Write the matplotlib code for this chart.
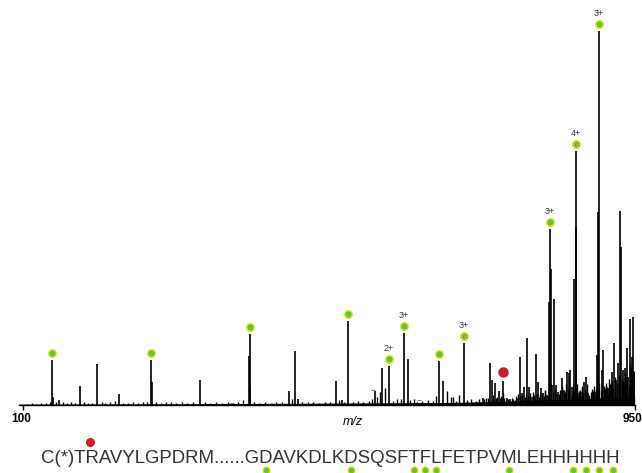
import matplotlib
matplotlib.use("Agg")
import matplotlib.pyplot as plt
from matplotlib.font_manager import FontProperties
from matplotlib.transforms import ScaledTranslation

# main peaks: m/z and relative intensity (%)
peak_mz = [140.4, 141.8, 149.7, 179.3, 203.0, 233.6, 278.2, 279.2, 345.0, 413.2, 414.6, 415.5,
           468.9, 477.2, 481.4, 534.3, 542.7, 551.0, 588.6, 599.3, 608.1, 629.0, 634.5,
           677.7, 683.2, 712.1, 738.5, 748.7, 751.5, 755.6, 761.2, 766.3, 771.9, 776.5,
           790.4, 792.8, 796.0, 800.6, 803.4, 806.7, 812.3, 815.9, 819.7, 822.0, 827.6,
           830.8, 832.2, 833.6, 835.4, 838.5, 840.5, 843.7, 848.5, 850.7, 855.4, 858.2,
           860.0, 862.4, 865.6, 868.0, 869.1, 871.6, 876.3, 879.5, 882.3, 885.5, 890.2,
           894.8, 898.0, 898.7, 900.0, 904.2, 906.4, 911.1, 914.7, 918.1, 921.3, 924.1,
           927.3, 930.1, 931.5, 933.5, 936.6, 939.0, 941.2, 943.6, 946.0, 947.1, 949.9]
peak_int = [12.0, 2.1, 1.3, 5.1, 11.0, 2.9, 12.0, 6.2, 6.7, 13.1, 19.0, 5.3,
            3.7, 14.4, 1.6, 6.4, 1.3, 22.5, 3.7, 9.9, 10.4, 19.3, 12.3,
            11.8, 6.4, 16.6, 1.9, 11.2, 6.7, 5.9, 3.7, 6.4, 1.9, 1.6,
            12.8, 3.2, 4.8, 17.9, 4.8, 2.1, 13.6, 6.1, 4.5, 3.2, 2.7,
            27.5, 47.1, 36.4, 5.3, 28.3, 5.3, 3.5, 7.2, 4.0, 8.8, 8.6,
            9.4, 4.8, 33.7, 67.9, 47.6, 3.2, 3.5, 6.1, 7.5, 3.2, 2.7,
            3.5, 13.4, 51.6, 100.0, 9.4, 14.7, 2.7, 4.5, 8.8, 16.6, 6.7,
            11.2, 51.9, 42.2, 9.4, 9.9, 15.2, 7.5, 23.0, 12.8, 23.5, 7.5]

# low-level grass
noise_mz = [105, 112, 118, 124, 131, 137, 145, 155, 161, 166, 172, 185, 190, 196, 209, 214,
            221, 228, 238, 245, 252, 259, 266, 272, 285, 291, 298, 305, 312, 320, 328, 336,
            352, 360, 368, 376, 384, 392, 399, 406, 421, 428, 436, 444, 452, 460, 474, 488,
            496, 503, 511, 519, 527, 539, 546, 558, 565, 572, 580, 585, 592, 596.5, 602.5,
            614, 620, 625, 637, 642.8, 648, 655, 662, 670, 674.4, 689.2, 694, 697, 702,
            705.5, 717, 722, 729, 734, 744, 758, 764, 769, 774, 781, 785, 788, 794, 798,
            808, 810, 818, 825, 829, 842, 846, 853, 857, 863, 874, 878, 887, 892, 896, 903,
            909, 913, 916, 920, 926, 929, 935, 938, 942, 945, 948,
            741, 746, 753, 757, 763, 767, 779, 783, 786, 791, 799, 802, 805, 811, 814, 817,
            821, 824, 826, 837, 839, 845, 849, 852, 854, 859, 864, 866, 870, 873, 877, 881,
            884, 889, 891, 893, 897, 901, 905, 907, 910, 912, 915, 917, 919, 922, 925, 928,
            932, 934, 937, 940, 944, 947, 949]
noise_int = [0.4, 0.5, 0.3, 0.6, 0.5, 0.8, 0.9, 0.7, 0.6, 0.8, 0.6, 0.7, 0.5, 0.6, 0.8, 0.5,
             0.7, 1.1, 0.6, 0.5, 0.8, 0.6, 0.9, 0.7, 0.8, 0.6, 0.7, 0.9, 0.6, 0.8, 0.6, 0.9,
             0.7, 0.6, 0.8, 0.5, 0.7, 0.6, 0.8, 1.4, 0.7, 0.6, 0.8, 0.6, 0.9, 0.7, 1.6, 0.8,
             0.7, 0.9, 0.6, 0.8, 0.7, 1.3, 0.8, 0.9, 1.1, 0.9, 1.2, 1.5, 2.2, 3.5, 4.5,
             1.1, 1.7, 1.6, 1.3, 1.7, 0.9, 1.0, 1.3, 1.2, 2.4, 3.7, 2.1, 2.2, 1.0,
             2.7, 1.4, 1.7, 1.2, 1.5, 1.8, 2.2, 2.5, 2.0, 1.6, 1.5, 2.5, 3.0, 2.6, 2.1,
             3.4, 2.6, 3.0, 3.7, 2.4, 2.9, 3.9, 3.5, 4.2, 3.0, 4.1, 3.4, 2.8, 3.7, 4.4, 4.0,
             4.6, 3.1, 5.5, 4.6, 5.2, 7.2, 5.8, 6.3, 5.4, 9.8, 8.5,
             1.5, 2.0, 2.8, 1.8, 2.0, 3.2, 1.8, 1.4, 1.9, 2.4, 3.0, 2.4, 3.2, 2.0, 2.9, 2.2,
             3.0, 2.4, 4.0, 3.5, 4.2, 3.0, 5.0, 4.1, 5.5, 4.6, 5.0, 4.4, 5.5, 3.8, 5.0, 4.3,
             5.6, 3.5, 4.3, 5.2, 5.0, 6.0, 5.4, 5.0, 6.0, 4.9, 7.0, 5.8, 6.5, 7.5, 6.0, 8.0,
             7.0, 6.5, 8.5, 7.0, 11.0, 10.0, 9.0]

# baseline floor
floor_mz = [94, 200, 300, 480, 600, 700, 740, 800, 850, 900, 950]
floor_int = [0.25, 0.3, 0.35, 0.45, 0.6, 0.7, 0.9, 1.2, 1.5, 1.9, 2.3]

# annotated fragment peaks
ann_mz = [140.4, 278.2, 414.6, 551.0, 608.1, 629.0, 677.7, 712.1, 832.2, 868.0, 900.0]
ann_charge = ['', '', '', '', '2+', '3+', '', '3+', '3+', '4+', '3+']
red_mz = [766.3]

tag_mz = [389.5, 585.8, 649.8]
tag_int = [0.5, 4.0, 1.3]

sequence = "C(*)TRAVYLGPDRM......GDAVKDLKDSQSFTFLFETPVMLEHHHHHH"
seq_green = [22, 29, 34, 35, 36, 42, 47, 48, 49, 50]
seq_red = [5]

GREEN = '#6cbf3c'
YELLOW = '#e2e81c'
RED = '#c8202a'
GREY = '#333333'

W, H = 642, 473
fig = plt.figure(figsize=(W / 100, H / 100), dpi=100)
ax = fig.add_axes([19 / W, (H - 405) / H, (635 - 19) / W, 405 / H])

ax.fill_between(floor_mz, 0, floor_int, color='black', lw=0)
ax.vlines(noise_mz, 0, noise_int, color='black', lw=1.0)
ax.vlines(peak_mz, 0, peak_int, color='black', lw=1.2)

height = dict(zip(peak_mz, peak_int))
for mz, ch in zip(ann_mz, ann_charge):
    top = height[mz] + 1.8
    ax.plot(mz, top, 'o', ms=5.5, mfc=GREEN, mec=YELLOW, mew=1.0, clip_on=False)
    if ch:
        ax.annotate(ch, (mz, top), xytext=(0, 4.5), textcoords='offset points',
                    ha='center', va='bottom', fontsize=6.5, color=GREY,
                    family='Liberation Sans')
for mz in red_mz:
    ax.plot(mz, height[mz] + 2.4, 'o', ms=6.5, color=RED, clip_on=False)

ax.plot(tag_mz, tag_int, '_', ms=3, color='#3cb043', mew=0.8)

ax.set_xlim(94, 950.5)
ax.set_ylim(0, 405 / 374 * 100)
for s in ['top', 'left', 'right']:
    ax.spines[s].set_visible(False)
ax.spines['bottom'].set_linewidth(1.0)
ax.set_yticks([])
ax.set_xticks([100, 950])
ax.set_xticklabels(['100', '950'], fontweight='bold', fontsize=8.5, family='Liberation Sans')
ax.tick_params(axis='x', direction='out', length=3.6, width=1.0, pad=2.5)
shift = ScaledTranslation(-2.5 / 100, 0, fig.dpi_scale_trans)
for lab in ax.get_xticklabels():
    lab.set_transform(lab.get_transform() + shift)
ax.set_xlabel('m/z', style='italic', fontsize=9, family='Liberation Sans')
ax.xaxis.set_label_coords((353 - 19) / 616, -0.026)
ax.xaxis.label.set_va('top')

# peptide sequence with fragment markers
fp = FontProperties(family='Liberation Sans', size=13.4)
x0 = 41
base_y = (H - 463) / H
fig.text(x0 / W, base_y, sequence, fontproperties=fp, color=GREY, va='baseline')
fig.canvas.draw()
rend = fig.canvas.get_renderer()


def prefix_width(i):
    if i == 0:
        return 0
    return rend.get_text_width_height_descent(sequence[:i], fp, ismath=False)[0]


def char_center(i):
    return (x0 + (prefix_width(i) + prefix_width(i + 1)) / 2) / W


for i in seq_green:
    fig.lines.append(plt.Line2D([char_center(i)], [3 / H], marker='o', ms=5, mfc=GREEN,
                                mec=YELLOW, mew=0.9, transform=fig.transFigure))
for i in seq_red:
    # red mark sits on the bond before this residue
    fig.lines.append(plt.Line2D([(x0 + prefix_width(i) + 5) / W], [31 / H], marker='o',
                                ms=5.5, color=RED, transform=fig.transFigure))

fig.savefig('out.png', dpi=100)
